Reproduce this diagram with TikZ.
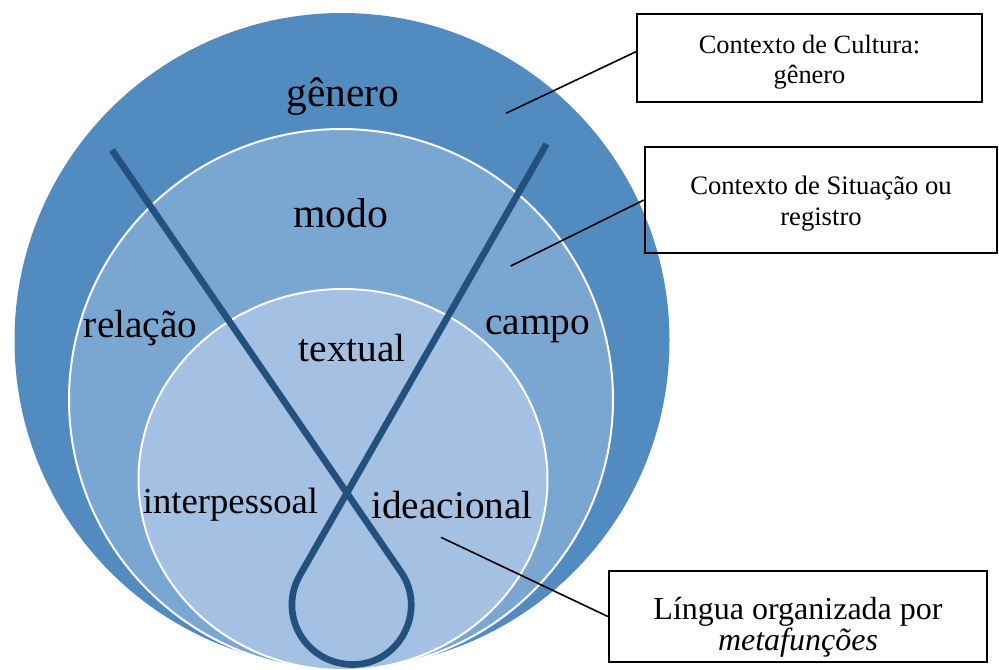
\documentclass[tikz,border=0pt]{standalone}
\usepackage{fontspec}
\setmainfont{Liberation Serif}

\definecolor{azulA}{HTML}{518BC0}
\definecolor{azulB}{HTML}{7AA6D2}
\definecolor{azulC}{HTML}{A4C0E3}
\definecolor{azulescuro}{HTML}{24507D}

\begin{document}
\begin{tikzpicture}[x=0.75pt, y=-0.75pt,
  rot/.style={anchor=base, inner sep=0pt, font=\fontsize{29.5}{30}\selectfont},
  caixa/.style={draw, line width=1.7pt, inner sep=0pt},
  txtcaixa/.style={anchor=base, align=center, inner sep=0pt},
  ligacao/.style={line width=1.2pt},
  laco/.style={draw=azulescuro, line width=5pt}]
\useasboundingbox (0,0) rectangle (999,669);

% circulos: genero, registro, metafuncoes
\fill[azulA] (342,340.5) circle [radius=327.5];
\filldraw[fill=azulB, draw=white, line width=1.5pt] (341,399.5) ellipse [x radius=272, y radius=270.5];
\filldraw[fill=azulC, draw=white, line width=1.5pt] (343,479.5) ellipse [x radius=204.5, y radius=190.5];

% o laco
\draw[laco] (112,150) -- (401,572) .. controls (427.4,610.5) and (399.7,664.5) .. (353,664.5)
  .. controls (306.3,664.5) and (276.8,615.5) .. (300,575) -- (546.5,144);

\node[rot, font=\fontsize{31}{31}\selectfont] (genero) at (343,106.7) {gênero};
\node[rot, font=\fontsize{31.3}{31}\selectfont] (modo) at (340.8,227.7) {modo};
\node[rot] (relacao) at (140.7,337) {relação};
\node[rot] (campo) at (537.5,334.3) {campo};
\node[rot] (textual) at (352.3,361) {textual};
\node[rot, font=\fontsize{27.5}{28}\selectfont] (interpessoal) at (230.5,513.3) {interpessoal};
\node[rot] (ideacional) at (452,518.3) {ideacional};

% caixas
\node[caixa, minimum width=258.75pt, minimum height=66pt] (cultura) at (809.5,58) {};
\node[txtcaixa, font=\fontsize{19.8}{22.6}\selectfont] (cultura-t) at (809.5,83.5) {Contexto de Cultura:\\gênero};
\node[caixa, minimum width=264pt, minimum height=79.5pt] (situacao) at (821,200) {};
\node[txtcaixa, font=\fontsize{20}{22.6}\selectfont] (situacao-t) at (821,225) {Contexto de Situação ou\\registro};
\node[caixa, minimum width=283.5pt, minimum height=68.25pt] (lingua) at (798,616.5) {};
\node[txtcaixa, font=\fontsize{24}{22}\selectfont] (lingua-t) at (798,650) {Língua organizada por\\\textit{metafunções}};

% ligacoes
\coordinate (pgenero) at (506,113.3);
\coordinate (psituacao) at (510.7,266);
\coordinate (pmeta) at (441,537.3);
\draw[ligacao] ([yshift=4.7pt]cultura.west) -- (pgenero);
\draw[ligacao] (situacao.west) -- (psituacao);
\draw[ligacao] (lingua.west) -- (pmeta);
\end{tikzpicture}
\end{document}
